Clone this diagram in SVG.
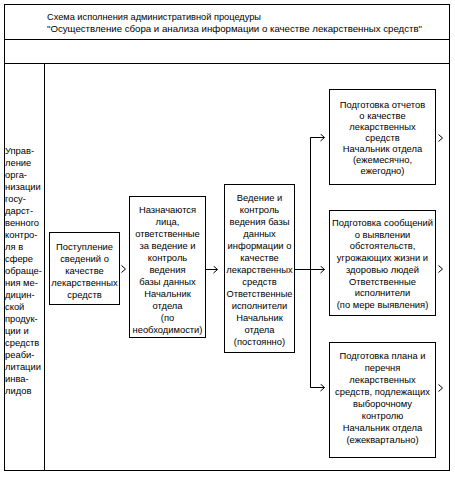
<svg xmlns="http://www.w3.org/2000/svg" width="455" height="478" viewBox="0 0 455 478">
<style>
text{font-family:"Liberation Sans","DejaVu Sans",sans-serif;font-size:9.4px;fill:#000}
.c{text-anchor:middle}
.frame,.box{fill:#fff;stroke:#000;stroke-width:1}
.ln{fill:none;stroke:#000;stroke-width:1}
</style>
<defs>
<marker id="chev" markerUnits="userSpaceOnUse" markerWidth="6" markerHeight="9" refX="4.5" refY="4" orient="auto" viewBox="0 0 6 9">
<path d="M0.5,0.5 L4.5,4 L0.5,7.5" fill="none" stroke="#000" stroke-width="1"/>
</marker>
<path id="ch" d="M0,-3.5 L4,0 L0,3.5" fill="none" stroke="#000" stroke-width="1"/>
</defs>
<rect width="455" height="478" fill="#fff"/>
<g id="frame">
<rect class="frame" x="4.5" y="4.5" width="445" height="466"/>
<line class="ln" x1="4.5" y1="39.5" x2="449.5" y2="39.5"/>
<line class="ln" x1="4.5" y1="63.5" x2="449.5" y2="63.5"/>
<line class="ln" x1="44.5" y1="63.5" x2="44.5" y2="470.5"/>
</g>
<g id="title">
<text x="47" y="20" style="font-size:9.8px" textLength="214" lengthAdjust="spacingAndGlyphs">Схема исполнения административной процедуры</text>
<text x="47" y="32" style="font-size:9.8px" textLength="375" lengthAdjust="spacingAndGlyphs">"Осуществление сбора и анализа информации о качестве лекарственных средств"</text>
</g>
<g id="lane">
<text x="5" y="154">Управ-</text>
<text x="5" y="166">ление</text>
<text x="5" y="178">орга-</text>
<text x="5" y="190">низации</text>
<text x="5" y="202">госу-</text>
<text x="5" y="214">дарст-</text>
<text x="5" y="226">венного</text>
<text x="5" y="238">контро-</text>
<text x="5" y="250">ля в</text>
<text x="5" y="262">сфере</text>
<text x="5" y="274">обраще-</text>
<text x="5" y="286">ния ме-</text>
<text x="5" y="298">дицин-</text>
<text x="5" y="310">ской</text>
<text x="5" y="322">продук-</text>
<text x="5" y="334">ции и</text>
<text x="5" y="346">средств</text>
<text x="5" y="358">реаби-</text>
<text x="5" y="370">литации</text>
<text x="5" y="382">инва-</text>
<text x="5" y="394">лидов</text>
</g>
<g id="n1">
<rect class="box" x="49.5" y="232.5" width="70" height="72"/>
<text class="c" x="84.5" y="250">Поступление</text>
<text class="c" x="84.5" y="262">сведений о</text>
<text class="c" x="84.5" y="274">качестве</text>
<text class="c" x="84.5" y="286">лекарственных</text>
<text class="c" x="84.5" y="298">средств</text>
</g>
<g id="n2">
<rect class="box" x="129.5" y="196.5" width="76" height="141"/>
<text class="c" x="167.5" y="213">Назначаются</text>
<text class="c" x="167.5" y="225">лица,</text>
<text class="c" x="167.5" y="237">ответственные</text>
<text class="c" x="167.5" y="249">за ведение и</text>
<text class="c" x="167.5" y="261">контроль</text>
<text class="c" x="167.5" y="273">ведения</text>
<text class="c" x="167.5" y="285">базы данных</text>
<text class="c" x="167.5" y="297">Начальник</text>
<text class="c" x="167.5" y="309">отдела</text>
<text class="c" x="167.5" y="321">(по</text>
<text class="c" x="167.5" y="333">необходимости)</text>
</g>
<g id="n3">
<rect class="box" x="224.5" y="184.5" width="70" height="168"/>
<text class="c" x="259.5" y="201">Ведение и</text>
<text class="c" x="259.5" y="213">контроль</text>
<text class="c" x="259.5" y="225">ведения базы</text>
<text class="c" x="259.5" y="237">данных</text>
<text class="c" x="259.5" y="249">информации о</text>
<text class="c" x="259.5" y="261">качестве</text>
<text class="c" x="259.5" y="273">лекарственных</text>
<text class="c" x="259.5" y="285">средств</text>
<text class="c" x="259.5" y="297" textLength="66" lengthAdjust="spacingAndGlyphs">Ответственные</text>
<text class="c" x="259.5" y="309">исполнители</text>
<text class="c" x="259.5" y="321">Начальник</text>
<text class="c" x="259.5" y="333">отдела</text>
<text class="c" x="259.5" y="345">(постоянно)</text>
</g>
<g id="n4">
<rect class="box" x="329.5" y="89.5" width="106" height="95"/>
<text class="c" x="382.5" y="108">Подготовка отчетов</text>
<text class="c" x="382.5" y="119">о качестве</text>
<text class="c" x="382.5" y="130">лекарственных</text>
<text class="c" x="382.5" y="141">средств</text>
<text class="c" x="382.5" y="152">Начальник отдела</text>
<text class="c" x="382.5" y="163">(ежемесячно,</text>
<text class="c" x="382.5" y="174">ежегодно)</text>
</g>
<g id="n5">
<rect class="box" x="329.5" y="210.5" width="106" height="105"/>
<text class="c" x="382.5" y="226">Подготовка сообщений</text>
<text class="c" x="382.5" y="238">о выявлении</text>
<text class="c" x="382.5" y="249">обстоятельств,</text>
<text class="c" x="382.5" y="261">угрожающих жизни и</text>
<text class="c" x="382.5" y="273">здоровью людей</text>
<text class="c" x="382.5" y="285">Ответственные</text>
<text class="c" x="382.5" y="296">исполнители</text>
<text class="c" x="382.5" y="308">(по мере выявления)</text>
</g>
<g id="n6">
<rect class="box" x="329.5" y="342.5" width="106" height="115"/>
<text class="c" x="382.5" y="359">Подготовка плана и</text>
<text class="c" x="382.5" y="371">перечня</text>
<text class="c" x="382.5" y="383">лекарственных</text>
<text class="c" x="382.5" y="395">средств, подлежащих</text>
<text class="c" x="382.5" y="407">выборочному</text>
<text class="c" x="382.5" y="419">контролю</text>
<text class="c" x="382.5" y="431">Начальник отдела</text>
<text class="c" x="382.5" y="443">(ежеквартально)</text>
</g>
<g id="connectors">
<use href="#ch" x="121.5" y="269"/>
<line class="ln" x1="205.5" y1="269.5" x2="217.5" y2="269.5" marker-end="url(#chev)"/>
<line class="ln" x1="294.5" y1="269.5" x2="310.5" y2="269.5"/>
<path class="ln" d="M324,137.5 H310.5 V387.5 H324"/>
<line class="ln" x1="310.5" y1="137.5" x2="324.5" y2="137.5" marker-end="url(#chev)"/>
<line class="ln" x1="310.5" y1="269.5" x2="324.5" y2="269.5" marker-end="url(#chev)"/>
<line class="ln" x1="310.5" y1="387.5" x2="324.5" y2="387.5" marker-end="url(#chev)"/>
<use href="#ch" x="438.5" y="138"/>
<use href="#ch" x="438.5" y="269"/>
<use href="#ch" x="438.5" y="388"/>
</g>
</svg>
